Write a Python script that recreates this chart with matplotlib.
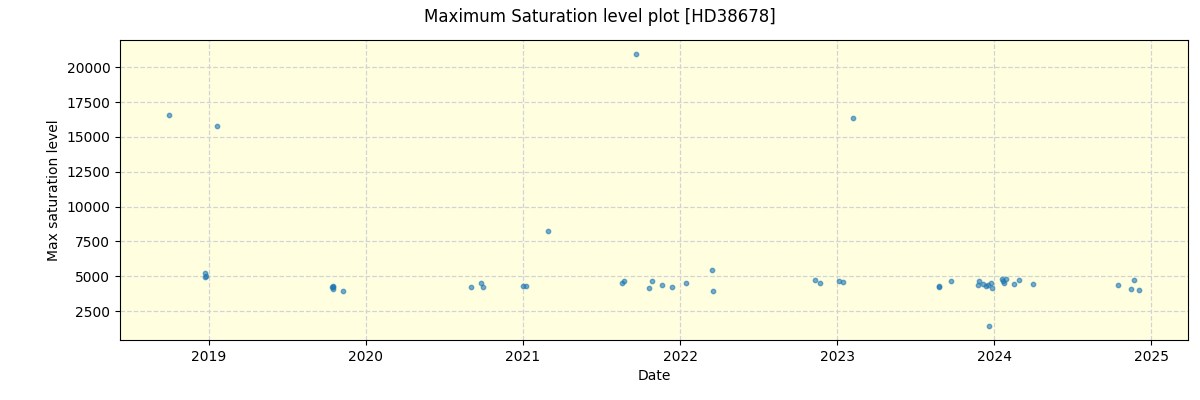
import matplotlib
matplotlib.use("Agg")
import matplotlib.pyplot as plt
import pandas as pd

dates = [
    "2018-09-30", "2018-12-23", "2018-12-24", "2018-12-25", "2019-01-20",
    "2019-10-16", "2019-10-17", "2019-10-18", "2019-10-18", "2019-11-09",
    "2020-09-02", "2020-09-25", "2020-09-30",
    "2021-01-01", "2021-01-07", "2021-02-28",
    "2021-08-19", "2021-08-24", "2021-09-20", "2021-10-21", "2021-10-28",
    "2021-11-20", "2021-12-13", "2022-01-15", "2022-03-16", "2022-03-18",
    "2022-11-11", "2022-11-23", "2023-01-06", "2023-01-15", "2023-02-08",
    "2023-08-27", "2023-08-27", "2023-09-24",
    "2023-11-24", "2023-11-27", "2023-12-06", "2023-12-13", "2023-12-17",
    "2023-12-20", "2023-12-25", "2023-12-27",
    "2024-01-20", "2024-01-22", "2024-01-25", "2024-01-29", "2024-02-17",
    "2024-02-28", "2024-04-01",
    "2024-10-16", "2024-11-15", "2024-11-22", "2024-12-04",
]
values = [
    16600, 5200, 4950, 5000, 15800,
    4250, 4100, 4300, 4200, 3940,
    4210, 4490, 4210,
    4280, 4280, 8240,
    4490, 4640, 20980, 4140, 4640,
    4350, 4210, 4490, 5430, 3920,
    4710, 4490, 4640, 4570, 16380,
    4200, 4300, 4640,
    4350, 4640, 4420, 4280, 4350,
    1400, 4490, 4140,
    4790, 4640, 4490, 4790, 4420,
    4710, 4420,
    4350, 4060, 4710, 3990,
]

x = pd.to_datetime(dates)

fig, ax = plt.subplots(figsize=(12, 4), dpi=100)
ax.set_facecolor("lightyellow")
ax.scatter(x, values, s=10, alpha=0.6, color="tab:blue", zorder=3)
ax.grid(True, linestyle="--", color="lightgray", linewidth=0.9, zorder=0)
ax.set_axisbelow(True)
ax.set_xlabel("Date")
ax.set_ylabel("Max saturation level")
fig.suptitle("Maximum Saturation level plot [HD38678]")
fig.subplots_adjust(left=0.1, right=0.99, bottom=0.15, top=0.9)
fig.savefig("out.png")
